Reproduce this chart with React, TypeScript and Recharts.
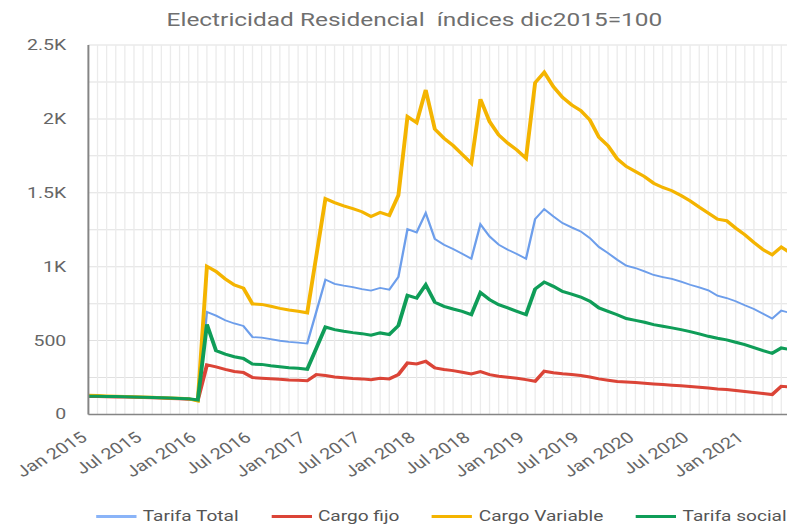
import React from 'react';
import { LineChart, Line, XAxis, YAxis, CartesianGrid } from 'recharts';

const MONTH_NAMES = ['Jan', 'Feb', 'Mar', 'Apr', 'May', 'Jun', 'Jul', 'Aug', 'Sep', 'Oct', 'Nov', 'Dec'];
const START_YEAR = 2015;

const tarifaTotal = [
  124, 123, 122, 121, 120, 119, 117, 115, 113, 111, 109, 106, 98,
  694, 669, 638, 616, 599, 524, 520, 510, 499, 492, 487, 480, 695,
  913, 884, 872, 862, 849, 838, 856, 845, 930, 1254, 1232, 1363, 1187,
  1149, 1119, 1088, 1054, 1287, 1205, 1149, 1115, 1086, 1054, 1322, 1390,
  1340, 1295, 1266, 1239, 1194, 1133, 1092, 1047, 1007, 991, 968, 944,
  930, 917, 899, 878, 860, 840, 804, 788, 766, 739, 714, 682, 649, 703, 687,
];
const cargoFijo = [
  122, 121, 120, 119, 118, 117, 115, 113, 111, 109, 107, 104, 97,
  336, 322, 305, 291, 284, 250, 246, 242, 238, 233, 231, 228, 270,
  264, 254, 248, 243, 241, 236, 245, 241, 270, 349, 342, 360, 315,
  304, 297, 286, 275, 290, 270, 259, 252, 245, 236, 225, 293,
  282, 275, 270, 264, 254, 241, 232, 223, 220, 216, 212, 207,
  203, 198, 194, 189, 185, 180, 173, 169, 162, 155, 149, 142, 135, 191, 187,
];
const cargoVariable = [
  130, 128, 126, 124, 122, 120, 118, 116, 114, 112, 110, 106, 92,
  1003, 968, 918, 877, 855, 748, 745, 732, 718, 707, 699, 688, 1073,
  1460, 1434, 1412, 1393, 1372, 1340, 1367, 1347, 1483, 2016, 1975, 2196, 1930,
  1869, 1820, 1760, 1700, 2134, 1982, 1892, 1836, 1790, 1734, 2245, 2315,
  2218, 2146, 2095, 2056, 1993, 1876, 1818, 1730, 1678, 1644, 1610, 1565,
  1536, 1514, 1482, 1446, 1403, 1363, 1322, 1311, 1261, 1216, 1164, 1115, 1081, 1133, 1092,
];
const tarifaSocial = [
  124, 123, 122, 121, 120, 119, 117, 115, 113, 111, 109, 106, 98,
  610, 432, 408, 391, 379, 341, 339, 330, 323, 317, 313, 306, 448,
  592, 574, 563, 554, 547, 536, 552, 541, 601, 806, 788, 878, 759,
  732, 714, 698, 676, 825, 777, 743, 721, 698, 676, 849, 896,
  867, 833, 815, 795, 766, 721, 698, 675, 649, 637, 624, 608,
  597, 586, 574, 561, 545, 529, 516, 505, 489, 473, 453, 432, 414, 450, 439,
];

const categories = tarifaTotal.map(
  (_, i) => `${MONTH_NAMES[i % 12]} ${START_YEAR + Math.floor(i / 12)}`
);

const xTickLabels = [
  'Jan 2015', 'Jul 2015', 'Jan 2016', 'Jul 2016', 'Jan 2017', 'Jul 2017', 'Jan 2018',
  'Jul 2018', 'Jan 2019', 'Jul 2019', 'Jan 2020', 'Jul 2020', 'Jan 2021',
];
const yGridTicks = [0, 250, 500, 750, 1000, 1250, 1500, 1750, 2000, 2250, 2500];
const yLabelTicks = [0, 500, 1000, 1500, 2000, 2500];
const yLabelText = ['0', '500', '1K', '1.5K', '2K', '2.5K'];

const series = [
  { key: 'total', name: 'Tarifa Total', color: '#6d9eeb', width: 1.8 },
  { key: 'fijo', name: 'Cargo fijo', color: '#db4437', width: 3 },
  { key: 'variable', name: 'Cargo Variable', color: '#f4b400', width: 3 },
  { key: 'social', name: 'Tarifa social', color: '#0f9d58', width: 3 },
];

const data = categories.map((month, i) => ({
  month,
  total: tarifaTotal[i],
  fijo: cargoFijo[i],
  variable: cargoVariable[i],
  social: tarifaSocial[i],
}));

const SX = 1.3;
const FONT = 'Roboto, sans-serif';

const XTick = (props: any) => {
  const { x, y, payload } = props;
  if (!xTickLabels.includes(payload.value)) return null;
  return (
    <text
      transform={`translate(${x},${y + 25}) rotate(-37)`}
      textAnchor="end"
      fontSize={15.3}
      fill="#666"
      fontFamily={FONT}
    >
      {payload.value}
    </text>
  );
};

const YTick = (props: any) => {
  const { x, y, payload } = props;
  const idx = yLabelTicks.indexOf(payload.value);
  if (idx < 0) return null;
  return (
    <text x={x - 17} y={y + 5} textAnchor="end" fontSize={15} fill="#666" fontFamily={FONT}>
      {yLabelText[idx]}
    </text>
  );
};

export default function App() {
  return (
    <div
      style={{
        position: 'absolute',
        left: 0,
        top: 0,
        width: 787,
        height: 530,
        overflow: 'hidden',
        background: '#fff',
      }}
    >
      <div
        style={{
          position: 'relative',
          width: 620,
          height: 530,
          transform: `scaleX(${SX})`,
          transformOrigin: '0 0',
        }}
      >
        <div
          style={{
            position: 'absolute',
            top: 8,
            left: 0,
            width: 637.6,
            textAlign: 'center',
            fontFamily: FONT,
            fontSize: 18.8,
            lineHeight: '24px',
            color: '#6f6f6f',
            whiteSpace: 'nowrap',
          }}
        >
          Electricidad Residencial&nbsp; índices dic2015=100
        </div>
        <LineChart
          width={620}
          height={530}
          data={data}
          margin={{ top: 45, right: 12, bottom: 85.5, left: 0 }}
        >
          <CartesianGrid vertical={false} stroke="#e0e0e0" />
          <CartesianGrid horizontal={false} stroke="#ebebeb" />
          <XAxis
            dataKey="month"
            interval={0}
            tick={<XTick />}
            tickLine={false}
            tickSize={0}
            tickMargin={0}
            height={30}
            axisLine={{ stroke: '#858585', strokeWidth: 1.5 }}
          />
          <YAxis
            domain={[0, 2500]}
            ticks={yGridTicks}
            interval={0}
            width={68}
            tick={<YTick />}
            tickLine={false}
            tickSize={0}
            tickMargin={0}
            axisLine={{ stroke: '#858585', strokeWidth: 1.5 }}
          />
          {series.map((s) => (
            <Line
              key={s.key}
              type="linear"
              dataKey={s.key}
              name={s.name}
              stroke={s.color}
              strokeWidth={s.width}
              dot={false}
              isAnimationActive={false}
            />
          ))}
        </LineChart>
        <div
          style={{
            position: 'absolute',
            top: 506,
            left: 73.8,
            height: 20,
            display: 'flex',
            alignItems: 'center',
            fontFamily: FONT,
            fontSize: 14.7,
            color: '#555',
            whiteSpace: 'nowrap',
          }}
        >
          {series.map((s) => (
            <div key={s.key} style={{ display: 'flex', alignItems: 'center', marginRight: 25 }}>
              <span
                style={{
                  display: 'inline-block',
                  width: 31,
                  height: 3,
                  background: s.key === 'total' ? '#8ab4f8' : s.color,
                  marginRight: 5,
                }}
              />
              <span>{s.name}</span>
            </div>
          ))}
        </div>
      </div>
    </div>
  );
}
